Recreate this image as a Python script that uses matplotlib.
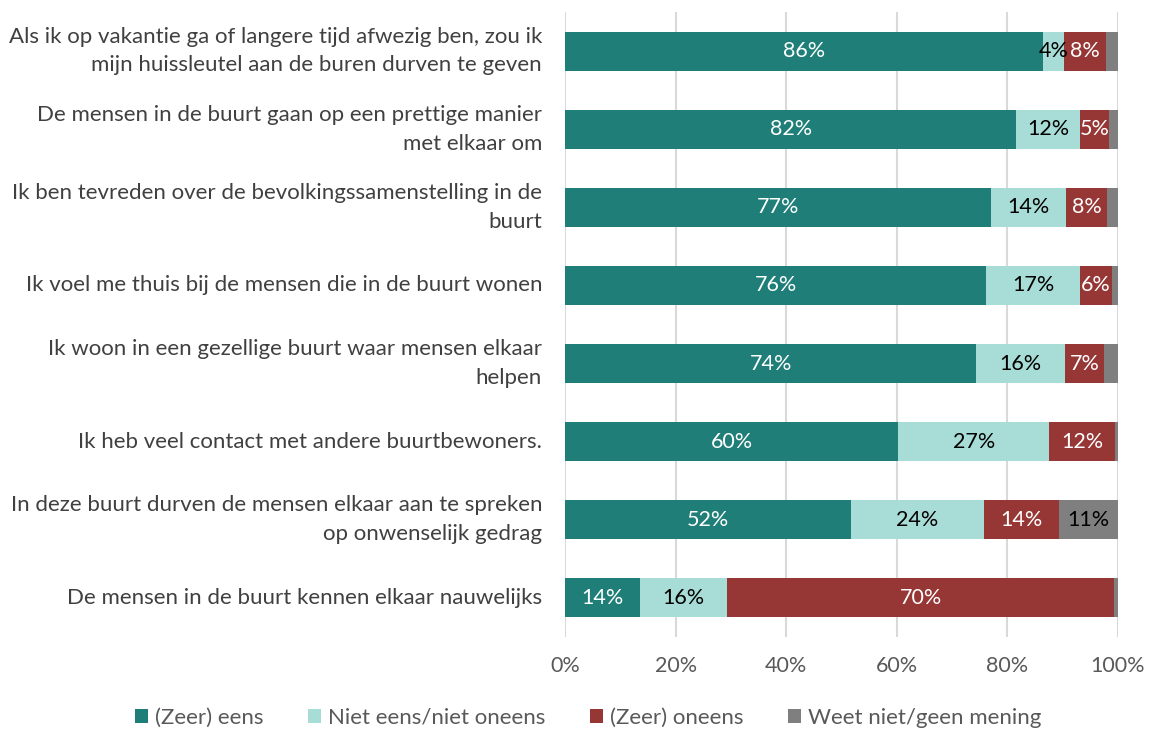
import matplotlib.pyplot as plt
import numpy as np

plt.rcParams['font.family'] = ['Lato', 'DejaVu Sans']

# Stellingen (van boven naar onder)
stellingen = [
    "Als ik op vakantie ga of langere tijd afwezig ben, zou ik\nmijn huissleutel aan de buren durven te geven",
    "De mensen in de buurt gaan op een prettige manier\nmet elkaar om",
    "Ik ben tevreden over de bevolkingssamenstelling in de\nbuurt",
    "Ik voel me thuis bij de mensen die in de buurt wonen",
    "Ik woon in een gezellige buurt waar mensen elkaar\nhelpen",
    "Ik heb veel contact met andere buurtbewoners.",
    "In deze buurt durven de mensen elkaar aan te spreken\nop onwenselijk gedrag",
    "De mensen in de buurt kennen elkaar nauwelijks",
]

eens = [86.4, 81.6, 77.0, 76.2, 74.4, 60.2, 51.7, 13.6]
neutraal = [3.8, 11.6, 13.6, 16.9, 16.0, 27.4, 24.1, 15.7]
oneens = [7.6, 5.2, 7.5, 5.8, 7.1, 11.9, 13.6, 70.0]
weet_niet = [2.2, 1.6, 1.9, 1.1, 2.5, 0.5, 10.6, 0.7]

series = [
    ("(Zeer) eens", eens, "#1F7F78", "white"),
    ("Niet eens/niet oneens", neutraal, "#A8DCD6", "black"),
    ("(Zeer) oneens", oneens, "#963736", "white"),
    ("Weet niet/geen mening", weet_niet, "#7F7F7F", "black"),
]

fig = plt.figure(figsize=(11.51, 7.31), dpi=100)
ax = fig.add_axes([565 / 1151, 1 - 637 / 731, (1118 - 565) / 1151, 625 / 731])

y = np.arange(len(stellingen))
left = np.zeros(len(stellingen))
for naam, vals, kleur, tekstkleur in series:
    vals = np.array(vals)
    ax.barh(y, vals, left=left, height=0.5, color=kleur, label=naam, zorder=3)
    for yi, l, v in zip(y, left, vals):
        if v >= 3:
            ax.text(l + v / 2, yi, f"{int(v + 0.5)}%", ha="center", va="center",
                    color=tekstkleur, fontsize=15.5, zorder=4)
    left += vals

ax.set_ylim(len(stellingen) - 0.5, -0.5)
ax.set_xlim(0, 100)
ax.set_xticks(np.arange(0, 101, 20))
ax.set_xticklabels([f"{t}%" for t in range(0, 101, 20)], color="#595959", fontsize=15.5)
ax.set_yticks(y)
ax.set_yticklabels(stellingen, color="#404040", fontsize=16, linespacing=1.55)
for lab in ax.get_yticklabels():
    lab.set_va("center")
ax.tick_params(axis="both", length=0)
ax.tick_params(axis="y", pad=16.5)
ax.tick_params(axis="x", pad=14)
ax.xaxis.grid(True, color="#D9D9D9", linewidth=1.5, zorder=0)
for s in ax.spines.values():
    s.set_visible(False)

fig.legend(loc="center", bbox_to_anchor=(588 / 1151, 1 - 718 / 731), ncol=4,
           frameon=False, fontsize=16, handlelength=0.6, handleheight=0.6,
           handletextpad=0.3, columnspacing=2.0, labelcolor="#595959")

fig.savefig("out.png", dpi=100)
